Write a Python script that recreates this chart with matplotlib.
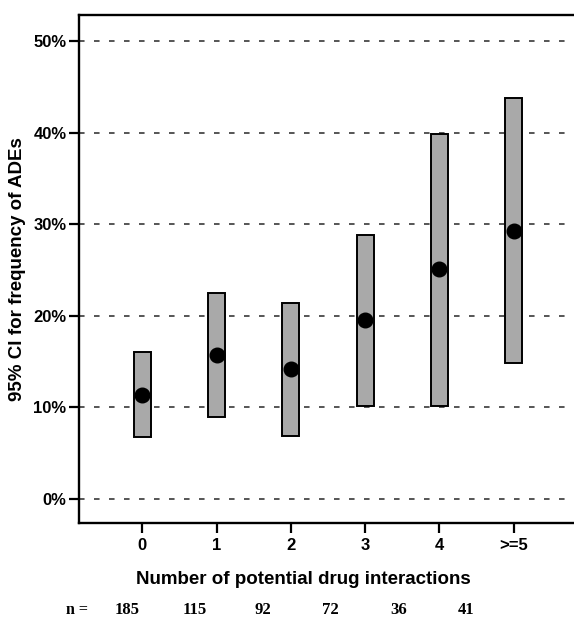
import matplotlib
matplotlib.use("Agg")
import matplotlib.pyplot as plt
from matplotlib.ticker import FuncFormatter

categories = ["0", "1", "2", "3", "4", ">=5"]
point_est = [11.4, 15.7, 14.2, 19.5, 25.1, 29.3]
ci_low = [6.8, 9.0, 6.9, 10.15, 10.15, 14.8]
ci_high = [16.1, 22.5, 21.4, 28.8, 39.9, 43.8]
n_values = [185, 115, 92, 72, 36, 41]
yticks = [0, 10, 20, 30, 40, 50]

plt.rcParams['font.family'] = ['Liberation Sans', 'DejaVu Sans']
plt.rcParams['lines.scale_dashes'] = False

fig = plt.figure(figsize=(5.74, 6.19), dpi=100)
ax = fig.add_axes([79/574, 1-523/619, 1-79/574, (523-15)/619])

x = list(range(len(categories)))
heights = [h - l for h, l in zip(ci_high, ci_low)]
ax.bar(x, heights, bottom=ci_low, width=0.23, color="#a9a9a9",
       edgecolor="black", linewidth=1.4, zorder=3)
ax.plot(x, point_est, 'o', color="black", markersize=10.5, zorder=4)

for yt in yticks:
    ax.axhline(yt, color="#555555", linewidth=1.4, linestyle=(0, (4.0, 6.8)), zorder=1)

ax.set_xlim(-0.85, 5.81)
ax.set_ylim(-2.62, 52.84)
ax.set_xticks(x)
ax.set_xticklabels(categories)
ax.set_yticks(yticks)
ax.yaxis.set_major_formatter(FuncFormatter(lambda v, p: f"{v:.0f}%"))

for lab in ax.get_xticklabels() + ax.get_yticklabels():
    lab.set_fontweight("bold")
    lab.set_fontsize(12)
ax.tick_params(axis='both', direction='out', length=7, width=1.6, color='black', pad=2)
ax.tick_params(axis='x', pad=4)

for s in ["left", "bottom", "top"]:
    ax.spines[s].set_linewidth(1.7)
ax.spines["right"].set_visible(False)

ax.set_ylabel("95% CI for frequency of ADEs", fontsize=13.5, fontweight="bold", labelpad=5)
ax.set_xlabel("Number of potential drug interactions", fontsize=13.5, fontweight="bold",
              labelpad=13, x=0.4525)

fig.text(77/574, 1-610/619, "n =", fontsize=11.5, fontweight="bold", family="Liberation Serif",
         ha="center", va="center")
n_start = 127
n_step = 67.8
for i, nv in enumerate(n_values):
    fig.text((n_start + i*n_step)/574, 1-610/619, str(nv), fontsize=12, fontweight="bold",
             family="Liberation Serif", ha="center", va="center")

fig.savefig("out.png", dpi=100)
